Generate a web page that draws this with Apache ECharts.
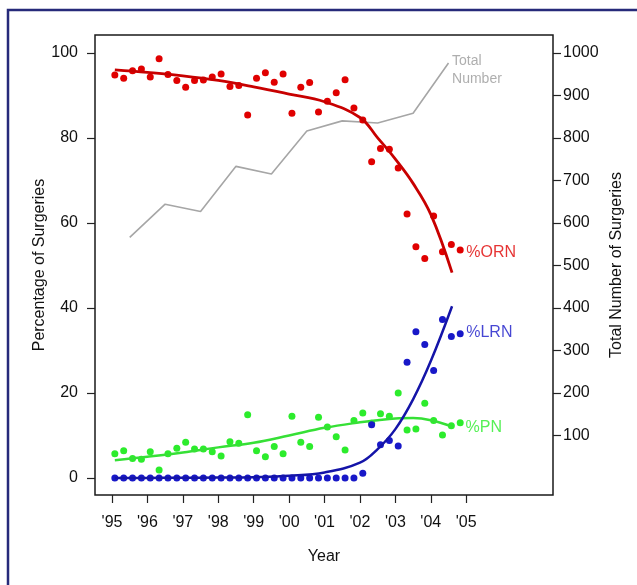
<!DOCTYPE html>
<html>
<head>
<meta charset="utf-8">
<script src="https://cdn.jsdelivr.net/npm/echarts@6/dist/echarts.min.js"></script>
<style>
  html, body { margin: 0; padding: 0; background: #fff; }
  #chart { width: 637px; height: 585px; }
</style>
</head>
<body>
<div id="chart"></div>
<script>
// quarterly observations (decimal year)
var quarters = [
  1995.08, 1995.33, 1995.58, 1995.83, 1996.08, 1996.33, 1996.58, 1996.83,
  1997.08, 1997.33, 1997.58, 1997.83, 1998.08, 1998.33, 1998.58, 1998.83,
  1999.08, 1999.33, 1999.58, 1999.83, 2000.08, 2000.33, 2000.58, 2000.83,
  2001.08, 2001.33, 2001.58, 2001.83, 2002.08, 2002.33, 2002.58, 2002.83,
  2003.08, 2003.33, 2003.58, 2003.83, 2004.08, 2004.33, 2004.58, 2004.83
];
// % open radical nephrectomy
var ornPts = [
  94.8, 94.0, 95.8, 96.2, 94.3, 98.6, 94.9, 93.5, 91.9, 93.5,
  93.6, 94.3, 95.0, 92.1, 92.3, 85.4, 94.0, 95.3, 93.1, 95.0,
  85.8, 91.9, 93.0, 86.1, 88.6, 90.6, 93.7, 87.0, 84.2, 74.4,
  77.5, 77.3, 72.9, 62.1, 54.4, 51.6, 61.6, 53.2, 54.9, 53.6
];
// % laparoscopic radical nephrectomy
var lrnPts = [
  0, 0, 0, 0, 0, 0, 0, 0, 0, 0,
  0, 0, 0, 0, 0, 0, 0, 0, 0, 0,
  0, 0, 0, 0, 0, 0, 0, 0, 1.1, 12.5,
  7.8, 8.8, 7.5, 27.2, 34.4, 31.4, 25.3, 37.3, 33.3, 33.9
];
// % partial nephrectomy
var pnPts = [
  5.7, 6.4, 4.6, 4.4, 6.2, 1.9, 5.7, 7.0, 8.4, 6.8,
  6.8, 6.2, 5.2, 8.5, 8.2, 14.9, 6.4, 5.0, 7.4, 5.7,
  14.5, 8.4, 7.4, 14.3, 12.0, 9.7, 6.6, 13.5, 15.3, 12.9,
  15.1, 14.5, 20.0, 11.3, 11.5, 17.6, 13.5, 10.1, 12.3, 13.0
];

// fitted trend curves
var fitYears = [1995.08, 1996, 1997, 1998, 1999, 2000, 2001, 2002, 2002.5, 2003, 2003.5, 2004, 2004.6];
var ornFit = [96.0, 95.4, 94.6, 93.5, 92.0, 90.3, 88.5, 84.8, 80.0, 75.0, 69.3, 62.0, 48.3];
var lrnFit = [0, 0.02, 0.05, 0.1, 0.2, 0.5, 1.3, 3.6, 6.8, 11.5, 18.5, 27.5, 40.4];
var pnFit = [4.2, 5.0, 6.0, 7.2, 8.3, 10.0, 11.8, 13.1, 13.6, 14.0, 14.1, 13.6, 12.1];

// total number of surgeries per year
var totalYears = [1995.5, 1996.5, 1997.5, 1998.5, 1999.5, 2000.5, 2001.5, 2002.5, 2003.5, 2004.5];
var totalVals = [566, 644, 627, 733, 715, 816, 840, 835, 858, 976];

// axis ticks
var yearTicks = [1995, 1996, 1997, 1998, 1999, 2000, 2001, 2002, 2003, 2004, 2005];
var yearLabels = ["'95", "'96", "'97", "'98", "'99", "'00", "'01", "'02", "'03", "'04", "'05"];
var pctTicks = [0, 20, 40, 60, 80, 100];
var totalTicks = [100, 200, 300, 400, 500, 600, 700, 800, 900, 1000];

// in-plot labels
var tagNames = ['%ORN', '%LRN', '%PN'];
var tagX = [2005.0, 2005.0, 2004.98];
var tagY = [53.1, 34.2, 11.8];

var FONT = "'Liberation Sans', Arial, Helvetica, sans-serif";
var RED = '#e00000', RED_LINE = '#c80000';
var BLUE = '#1818c8', BLUE_LINE = '#1414a8';
var GREEN = '#2cec2c', GREEN_LINE = '#36e036';
var tagColors = [RED, BLUE, GREEN];

function pairs(xs, ys) {
  return xs.map(function (x, i) { return [x, ys[i]]; });
}

var chart = echarts.init(document.getElementById('chart'));

var series = [
  {
    type: 'line', yAxisIndex: 1, showSymbol: false, symbol: 'none',
    data: pairs(totalYears, totalVals),
    lineStyle: { color: '#a6a6a6', width: 1.6 }, z: 1
  },
  {
    type: 'scatter', data: pairs(quarters, pnPts), symbolSize: 7,
    itemStyle: { color: GREEN, opacity: 1 }, z: 2
  },
  {
    type: 'line', data: pairs(fitYears, pnFit), symbol: 'none', smooth: 0.4,
    lineStyle: { color: GREEN_LINE, width: 2.5 }, z: 3
  },
  {
    type: 'scatter', data: pairs(quarters, lrnPts), symbolSize: 7,
    itemStyle: { color: BLUE, opacity: 1 }, z: 4
  },
  {
    type: 'line', data: pairs(fitYears, lrnFit), symbol: 'none', smooth: 0.4,
    lineStyle: { color: BLUE_LINE, width: 2.5 }, z: 5
  },
  {
    type: 'scatter', data: pairs(quarters, ornPts), symbolSize: 7,
    itemStyle: { color: RED, opacity: 1 }, z: 6
  },
  {
    type: 'line', data: pairs(fitYears, ornFit), symbol: 'none', smooth: 0.4,
    lineStyle: { color: RED_LINE, width: 2.8 }, z: 7
  },
  {
    type: 'scatter', symbolSize: 0, z: 8,
    data: tagNames.map(function (n, i) {
      return {
        name: n, value: [tagX[i], tagY[i]],
        label: { color: tagColors[i] }
      };
    }),
    label: {
      show: true, position: 'right', distance: 0, formatter: '{b}',
      fontFamily: FONT, fontSize: 16
    }
  },
  {
    type: 'scatter', yAxisIndex: 1, symbolSize: 0, z: 8,
    data: [{ name: 'Total\nNumber', value: [2004.6, 960] }],
    label: {
      show: true, position: 'right', distance: 0, formatter: '{b}',
      fontFamily: FONT, fontSize: 14, lineHeight: 18, color: '#9a9a9a'
    }
  }
];

var option = {
  animation: false,
  backgroundColor: '#fff',
  textStyle: { fontFamily: FONT },
  graphic: [{
    type: 'rect', shape: { x: 8, y: 10, width: 700, height: 700 },
    style: { fill: null, stroke: '#262a7a', lineWidth: 2.5 }, silent: true
  }],
  grid: {
    left: 95, right: 84, top: 35, bottom: 90,
    show: true, borderColor: '#1a1a1a', borderWidth: 1.5,
    backgroundColor: 'transparent'
  },
  xAxis: {
    type: 'value', min: 1994.52, max: 2007.45,
    name: 'Year', nameLocation: 'middle', nameGap: 54, nameMoveOverlap: false,
    nameTextStyle: { fontSize: 16, color: '#111', fontFamily: FONT },
    axisLine: { show: false, onZero: false },
    splitLine: { show: false },
    axisTick: {
      show: true, length: 8, customValues: yearTicks,
      lineStyle: { color: '#222', width: 1.2 }
    },
    axisLabel: {
      show: true, customValues: yearTicks, margin: 20,
      fontSize: 16, color: '#111', fontFamily: FONT,
      formatter: function (v) { return yearLabels[yearTicks.indexOf(v)]; }
    }
  },
  yAxis: [
    {
      type: 'value', position: 'left', min: -4, max: 104.2,
      name: 'Percentage of Surgeries', nameLocation: 'middle', nameGap: 47,
      nameRotate: 90, nameMoveOverlap: false,
      nameTextStyle: { fontSize: 16, color: '#111', fontFamily: FONT },
      axisLine: { show: false, onZero: false },
      splitLine: { show: false },
      axisTick: {
        show: true, length: 8, customValues: pctTicks,
        lineStyle: { color: '#222', width: 1.2 }
      },
      axisLabel: {
        show: true, customValues: pctTicks, margin: 17,
        fontSize: 16, color: '#111', fontFamily: FONT
      }
    },
    {
      type: 'value', position: 'right', min: -40, max: 1042,
      name: 'Total Number of Surgeries', nameLocation: 'middle', nameGap: 56,
      nameRotate: 90, nameMoveOverlap: false,
      nameTextStyle: { fontSize: 16, color: '#111', fontFamily: FONT },
      axisLine: { show: false, onZero: false },
      splitLine: { show: false },
      axisTick: {
        show: true, length: 8, customValues: totalTicks,
        lineStyle: { color: '#222', width: 1.2 }
      },
      axisLabel: {
        show: true, customValues: totalTicks, margin: 10,
        fontSize: 16, color: '#111', fontFamily: FONT,
        formatter: function (v) { return String(v); }
      }
    }
  ],
  series: series
};

chart.setOption(option);
</script>
</body>
</html>
